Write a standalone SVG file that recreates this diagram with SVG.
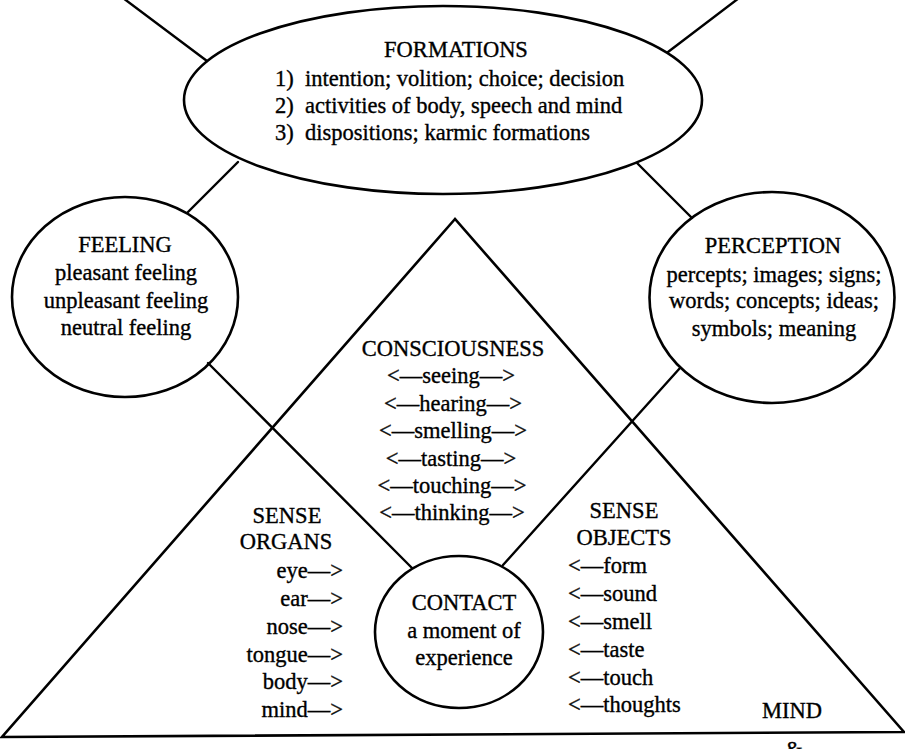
<svg xmlns="http://www.w3.org/2000/svg" width="905" height="749" viewBox="0 0 905 749">
  <style>
    .shape { fill: none; stroke: #000; stroke-width: 2.6; }
    .link { fill: none; stroke: #000; stroke-width: 2.4; stroke-linecap: round; }
    text { font-family: "Liberation Serif", "Times New Roman", serif; font-size: 22.5px; fill: #000; stroke: #000; stroke-width: 0.35; }
    .c { text-anchor: middle; }
    .r { text-anchor: end; }
  </style>
  <rect width="905" height="749" fill="#fff"/>

  <!-- connectors between the aggregates -->
  <g id="connectors">
    <line class="link" x1="123" y1="-2" x2="207" y2="61"/>
    <line class="link" x1="739" y1="-2" x2="668" y2="52"/>
    <line class="link" x1="238" y1="162" x2="188" y2="212"/>
    <line class="link" x1="637" y1="163" x2="692" y2="218"/>
    <line class="link" x1="208" y1="363" x2="412" y2="568"/>
    <line class="link" x1="680" y1="368" x2="503" y2="565"/>
  </g>

  <!-- mind and body triangle -->
  <g id="triangle">
    <polygon class="shape" points="455,219 2,737 904,732" stroke-linejoin="miter"/>
    <text class="c" x="453" y="356">CONSCIOUSNESS</text>
    <text class="c" x="451" y="383">&lt;—seeing—&gt;</text>
    <text class="c" x="453" y="411">&lt;—hearing—&gt;</text>
    <text class="c" x="453" y="438">&lt;—smelling—&gt;</text>
    <text class="c" x="451" y="466">&lt;—tasting—&gt;</text>
    <text class="c" x="452" y="493">&lt;—touching—&gt;</text>
    <text class="c" x="452" y="520">&lt;—thinking—&gt;</text>
  </g>

  <g id="sense-organs">
    <text class="c" x="287" y="523">SENSE</text>
    <text class="c" x="286" y="549">ORGANS</text>
    <text class="r" x="343" y="578">eye—&gt;</text>
    <text class="r" x="343" y="606">ear—&gt;</text>
    <text class="r" x="343" y="634">nose—&gt;</text>
    <text class="r" x="343" y="662">tongue—&gt;</text>
    <text class="r" x="343" y="689">body—&gt;</text>
    <text class="r" x="343" y="717">mind—&gt;</text>
  </g>

  <g id="sense-objects">
    <text class="c" x="624" y="518">SENSE</text>
    <text class="c" x="624" y="545">OBJECTS</text>
    <text x="568" y="573">&lt;—form</text>
    <text x="568" y="601">&lt;—sound</text>
    <text x="568" y="629">&lt;—smell</text>
    <text x="568" y="657">&lt;—taste</text>
    <text x="568" y="685">&lt;—touch</text>
    <text x="568" y="712">&lt;—thoughts</text>
  </g>

  <g id="mind-label">
    <text class="c" x="792" y="718">MIND</text>
    <text class="c" x="794" y="757">&amp;</text>
  </g>

  <g id="formations">
    <ellipse class="shape" cx="443" cy="100" rx="259" ry="94" fill="#fff"/>
    <text class="c" x="456" y="57">FORMATIONS</text>
    <text x="275" y="86">1)</text><text x="305" y="86">intention; volition; choice; decision</text>
    <text x="275" y="113">2)</text><text x="305" y="113">activities of body, speech and mind</text>
    <text x="275" y="140">3)</text><text x="305" y="140">dispositions; karmic formations</text>
  </g>

  <g id="feeling">
    <ellipse class="shape" cx="125" cy="297" rx="113" ry="100" fill="#fff"/>
    <text class="c" x="125" y="252">FEELING</text>
    <text class="c" x="126" y="280">pleasant feeling</text>
    <text class="c" x="126" y="308">unpleasant feeling</text>
    <text class="c" x="126" y="335">neutral feeling</text>
  </g>

  <g id="perception">
    <ellipse class="shape" cx="772" cy="297.5" rx="122.5" ry="105.5" fill="#fff"/>
    <text class="c" x="773" y="253">PERCEPTION</text>
    <text class="c" x="774" y="282" font-size="23.5">percepts; images; signs;</text>
    <text class="c" x="774" y="308" font-size="23.5">words; concepts; ideas;</text>
    <text class="c" x="774" y="336" font-size="23.5">symbols; meaning</text>
  </g>

  <g id="contact">
    <ellipse class="shape" cx="459" cy="632" rx="84" ry="76" fill="#fff"/>
    <text class="c" x="464" y="610">CONTACT</text>
    <text class="c" x="464" y="638">a moment of</text>
    <text class="c" x="464" y="665">experience</text>
  </g>
</svg>
